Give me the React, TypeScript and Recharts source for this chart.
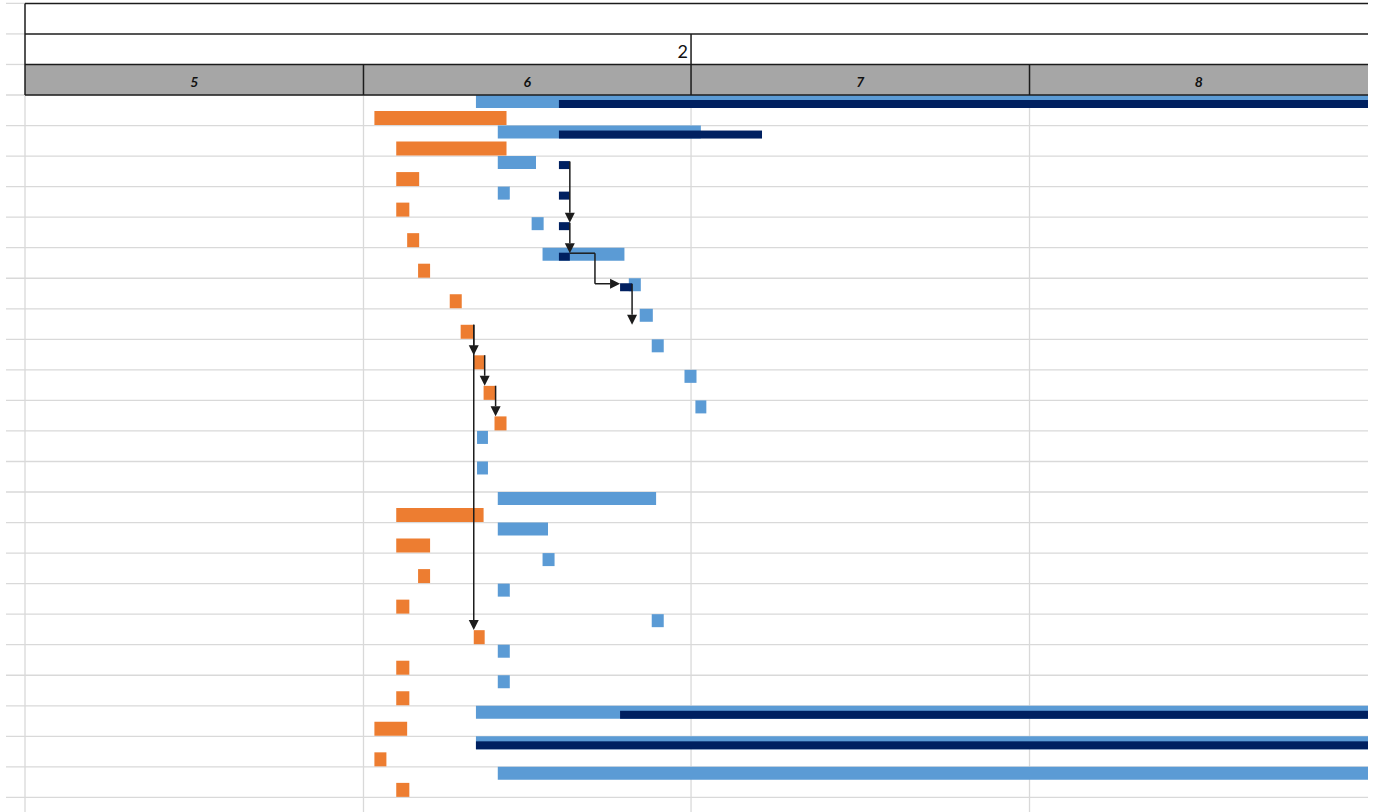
import React from 'react'
import {
  ComposedChart,
  Bar,
  XAxis,
  YAxis,
  CartesianGrid,
  ReferenceArea,
  ReferenceLine,
} from 'recharts'

type Span = [number, number] | null

// x values are days counted from 1 May (day 0); open-ended bars run past the sheet edge
const taskIds = [
  '01', '02', '03', '04', '05', '06', '07', '08', '09', '10', '11', '12',
  '13', '14', '15', '16', '17', '18', '19', '20', '21', '22', '23', '24',
]

const plannedSpans: Span[] = [
  [41.3, 140], [43.3, 61.9], [43.3, 46.8], [43.3, 44.4], [46.4, 47.5], [47.4, 54.9],
  [55.3, 56.4], [56.3, 57.5], [57.4, 58.5], [60.4, 61.5], [61.4, 62.4], [41.4, 42.4],
  [41.4, 42.4], [43.3, 57.8], [43.3, 47.9], [47.4, 48.5], [43.3, 44.4], [57.4, 58.5],
  [43.3, 44.4], [43.3, 44.4], [41.3, 140], [41.3, 140], [43.3, 140], null,
]

const progressSpans: Span[] = [
  [48.9, 140], [48.9, 67.5], [48.9, 49.9], [48.9, 49.9], [48.9, 49.9], [48.9, 49.9],
  [54.5, 55.6], null, null, null, null, null,
  null, null, null, null, null, null,
  null, null, [54.5, 140], [41.3, 140], null, null,
]

const actualSpans: Span[] = [
  [32.0, 44.1], [34.0, 44.1], [34.0, 36.1], [34.0, 35.2], [35.0, 36.1], [36.0, 37.1],
  [38.9, 40.0], [39.9, 41.1], [41.1, 42.1], [42.0, 43.1], [43.0, 44.1], null,
  null, [34.0, 42.0], [34.0, 37.1], [36.0, 37.1], [34.0, 35.2], [41.1, 42.1],
  [34.0, 35.2], [34.0, 35.2], [32.0, 35.0], [32.0, 33.1], [34.0, 35.2], null,
]

const monthLabels = ['5', '6', '7', '8']
const monthStarts = [0, 31, 61, 92, 123]
const quarterLabels = ['2']
const quarterEnds = [61]

type BarKey = 'progress' | 'actual'
type Link = { from: number; to: number; bar: BarKey; toBar?: BarKey; kind: 'down' | 'elbow' }

const links: Link[] = [
  { from: 2, to: 4, bar: 'progress', kind: 'down' },
  { from: 4, to: 5, bar: 'progress', kind: 'down' },
  { from: 5, to: 6, bar: 'progress', kind: 'elbow' },
  { from: 6, to: 7, bar: 'progress', toBar: 'actual', kind: 'down' },
  { from: 7, to: 17, bar: 'actual', kind: 'down' },
  { from: 7, to: 8, bar: 'actual', kind: 'down' },
  { from: 8, to: 9, bar: 'actual', kind: 'down' },
  { from: 9, to: 10, bar: 'actual', kind: 'down' },
]

const rows = taskIds.map((id, i) => ({
  id,
  row: i,
  planned: plannedSpans[i],
  progress: progressSpans[i],
  actual: actualSpans[i],
}))

// layout
const ROW_H = 30.54
const TOP = 95
const LEAD = 1.74
const END = 123
const SHEET_END = 130
const INK = '#1c1c1c'
const GRID = '#d9d9d9'
const FONT = 'Lato, "Liberation Sans", Arial, sans-serif'
const anchor: Record<BarKey, number> = { progress: 0.18, actual: 0.52 }
const rowLines = Array.from({ length: taskIds.length + 1 }, (_, i) => i)
const dayLines = monthStarts.slice(0, 4)

const spanOf = (bar: BarKey, i: number) => (bar === 'progress' ? progressSpans : actualSpans)[i] as [number, number]

const linkPaths = links.map((l) => {
  const src = spanOf(l.bar, l.from)
  const y0 = l.from + anchor[l.bar]
  const y1 = l.to + anchor[l.toBar ?? l.bar]
  if (l.kind === 'down') return [{ x: src[1], y: y0 }, { x: src[1], y: y1 }]
  const tgt = spanOf(l.bar, l.to)
  const mid = (src[1] + tgt[0]) / 2
  return [
    { x: src[1], y: y0 },
    { x: mid, y: y0 },
    { x: mid, y: y1 },
    { x: tgt[0], y: y1 },
  ]
})

function ArrowLine(props: any) {
  const { x1, y1, x2, y2 } = props
  const a = Math.atan2(y2 - y1, x2 - x1)
  const len = 10
  const half = 5
  const bx = x2 - len * Math.cos(a)
  const by = y2 - len * Math.sin(a)
  const nx = -Math.sin(a) * half
  const ny = Math.cos(a) * half
  return (
    <g>
      <line x1={x1} y1={y1} x2={bx} y2={by} stroke={INK} strokeWidth={1.5} />
      <polygon points={`${x2},${y2} ${bx + nx},${by + ny} ${bx - nx},${by - ny}`} fill={INK} />
    </g>
  )
}

function ProgressShape(props: any) {
  const { x, y, width, height } = props
  if (!width || width <= 0) return <g />
  // sits on the lower part of the planned bar
  return <rect x={x} y={y - 6} width={width} height={height} fill="#002060" />
}

export default function App() {
  const height = TOP + taskIds.length * ROW_H + 2

  return (
    <div
      style={{
        position: 'absolute',
        left: 0,
        top: 0,
        width: 1383,
        height: 812,
        overflow: 'hidden',
        background: '#fff',
        fontFamily: FONT,
      }}
    >
      <ComposedChart
        layout="vertical"
        width={1368}
        height={height}
        data={rows}
        margin={{ top: TOP, right: 0, left: 6, bottom: 2 }}
        barCategoryGap={0}
        barGap={3}
      >
        <XAxis
          type="number"
          domain={[-LEAD, END]}
          ticks={dayLines}
          interval={0}
          allowDataOverflow
          hide
        />
        {/* row position axis (default id), used by grid, header and arrows */}
        <YAxis
          type="number"
          dataKey="row"
          domain={[0, taskIds.length]}
          ticks={rowLines}
          interval={0}
          allowDataOverflow
          hide
        />
        <YAxis yAxisId="main" type="category" dataKey="id" hide />
        <YAxis yAxisId="nav" type="category" dataKey="id" hide />
        <CartesianGrid stroke={GRID} strokeWidth={1.3} syncWithTicks />

        {/* sheet header */}
        <ReferenceArea x1={0} x2={SHEET_END} y1={-1} y2={0} fill="#a6a6a6" fillOpacity={1} stroke="none" ifOverflow="visible" />
        {monthLabels.map((m, i) => (
          <ReferenceArea
            key={`m${m}`}
            x1={monthStarts[i]}
            x2={monthStarts[i + 1]}
            y1={-1}
            y2={0}
            fill="transparent"
            stroke="none"
            ifOverflow="visible"
            label={{ value: m, position: 'center', dy: 2, fill: '#111', fontSize: 14, fontWeight: 700, fontStyle: 'italic', fontFamily: FONT }}
          />
        ))}
        {quarterLabels.map((q, i) => (
          <ReferenceArea
            key={`q${q}`}
            x1={i === 0 ? 0 : quarterEnds[i - 1]}
            x2={quarterEnds[i]}
            y1={-2}
            y2={-1}
            fill="transparent"
            stroke="none"
            ifOverflow="visible"
            label={{ value: q, position: 'insideRight', offset: 3, dy: 2, fill: '#111', fontSize: 18, fontFamily: FONT }}
          />
        ))}

        <Bar yAxisId="main" dataKey="planned" fill="#5b9bd5" barSize={13} isAnimationActive={false} />
        <Bar yAxisId="main" dataKey="actual" fill="#ed7d31" barSize={14} isAnimationActive={false} />
        <Bar yAxisId="nav" dataKey="progress" fill="#002060" barSize={8} shape={ProgressShape} isAnimationActive={false} />

        {/* header grid stubs and borders */}
        {[-3, -2, -1].map((r) => (
          <ReferenceLine key={`s${r}`} segment={[{ x: -LEAD, y: r }, { x: 0, y: r }]} stroke={GRID} strokeWidth={1.3} ifOverflow="visible" />
        ))}
        {[-3, -2, -1, 0].map((r) => (
          <ReferenceLine key={`h${r}`} segment={[{ x: 0, y: r }, { x: SHEET_END, y: r }]} stroke={INK} strokeWidth={1.5} ifOverflow="visible" />
        ))}
        <ReferenceLine segment={[{ x: 0, y: -3 }, { x: 0, y: 0 }]} stroke={INK} strokeWidth={1.5} ifOverflow="visible" />
        {monthStarts.slice(1, 4).map((d) => (
          <ReferenceLine key={`v${d}`} segment={[{ x: d, y: -1 }, { x: d, y: 0 }]} stroke={INK} strokeWidth={1.5} ifOverflow="visible" />
        ))}
        {quarterEnds.map((d) => (
          <ReferenceLine key={`qv${d}`} segment={[{ x: d, y: -2 }, { x: d, y: -1 }]} stroke={INK} strokeWidth={1.5} ifOverflow="visible" />
        ))}

        {/* dependency arrows */}
        {linkPaths.map((pts, li) =>
          pts.slice(1).map((p, si) => {
            const last = si === pts.length - 2
            return (
              <ReferenceLine
                key={`a${li}-${si}`}
                segment={[pts[si], p]}
                stroke={INK}
                strokeWidth={1.5}
                ifOverflow="visible"
                shape={last ? ArrowLine : undefined}
              />
            )
          }),
        )}
      </ComposedChart>
    </div>
  )
}
